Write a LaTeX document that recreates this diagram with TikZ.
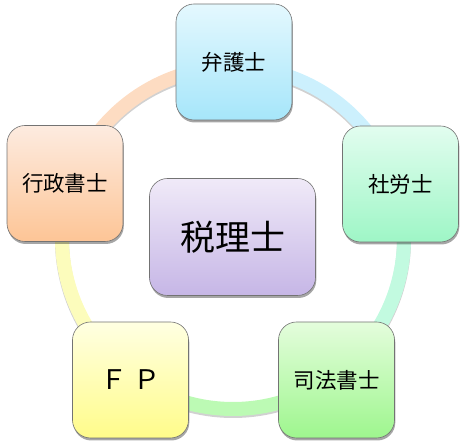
\documentclass[tikz,border=0pt]{standalone}
\usepackage{fontspec}
\newfontfamily\cjk{Noto Sans CJK JP}
\usetikzlibrary{shadows}
\definecolor{peachT}{HTML}{FDEBE0}\definecolor{peachB}{HTML}{FDC596}
\definecolor{blueT}{HTML}{E4F8FE}\definecolor{blueB}{HTML}{A6E6FA}
\definecolor{mintT}{HTML}{E2FDEF}\definecolor{mintB}{HTML}{9EF6C6}
\definecolor{greenT}{HTML}{E4FDDC}\definecolor{greenB}{HTML}{9EF68E}
\definecolor{yelT}{HTML}{FFFFE2}\definecolor{yelB}{HTML}{FFFC8A}
\definecolor{lavT}{HTML}{F0EAF8}\definecolor{lavB}{HTML}{C6B6E6}
\definecolor{ringPeach}{HTML}{FDDCC2}
\definecolor{ringBlue}{HTML}{CCF0FD}
\definecolor{ringMint}{HTML}{C2FAE0}
\definecolor{ringGreen}{HTML}{BCFAB4}
\definecolor{ringYel}{HTML}{FCFCBC}
\tikzset{
  boxnode/.style={draw=black!55, line width=0.6pt, rounded corners=18pt,
    minimum width=116pt, minimum height=116pt, inner sep=0pt,
    shading=axis, shading angle=0,
    drop shadow={shadow xshift=0.8pt, shadow yshift=-2.5pt, opacity=0.35, fill=black},
    font=\cjk\fontsize{21.5}{25}\selectfont, text=black},
  ringseg/.style={line width=14pt},
  ringshadow/.style={line width=14pt, draw=black, opacity=0.18},
}
\begin{document}
\begin{tikzpicture}[x=1pt,y=1pt]
\useasboundingbox (0,0) rectangle (464,447);
\coordinate (c) at (233,209);
% ring shadows
\foreach \a/\b in {162/90,90/18,18/-54,-54/-126,234/162}{
  \draw[ringshadow] ([yshift=-2pt]c) ++(\a:171) arc (\a:\b:171);
}
% ring segments
\draw[ringseg, ringPeach] (c) ++(162:171) arc (162:90:171);
\draw[ringseg, ringBlue]  (c) ++(90:171) arc (90:18:171);
\draw[ringseg, ringMint]  (c) ++(18:171) arc (18:-54:171);
\draw[ringseg, ringGreen] (c) ++(-54:171) arc (-54:-126:171);
\draw[ringseg, ringYel]   (c) ++(234:171) arc (234:162:171);
% boxes
\node[boxnode, top color=blueT, bottom color=blueB] (bengo) at (234,385) {弁護士};
\node[boxnode, top color=mintT, bottom color=mintB] (sharo) at (400.5,263) {社労士};
\node[boxnode, top color=greenT, bottom color=greenB] (shiho) at (336.5,67) {司法書士};
\node[boxnode, top color=yelT, bottom color=yelB, font=\cjk\fontsize{27}{30}\selectfont] (fp) at (130.5,67) {Ｆ Ｐ};
\node[boxnode, top color=peachT, bottom color=peachB] (gyosei) at (65,263.5) {行政書士};
\node[boxnode, top color=lavT, bottom color=lavB, minimum width=166pt, minimum height=117pt,
  font=\cjk\fontsize{35}{40}\selectfont] (zeiri) at (232.5,210) {税理士};
\end{tikzpicture}
\end{document}
